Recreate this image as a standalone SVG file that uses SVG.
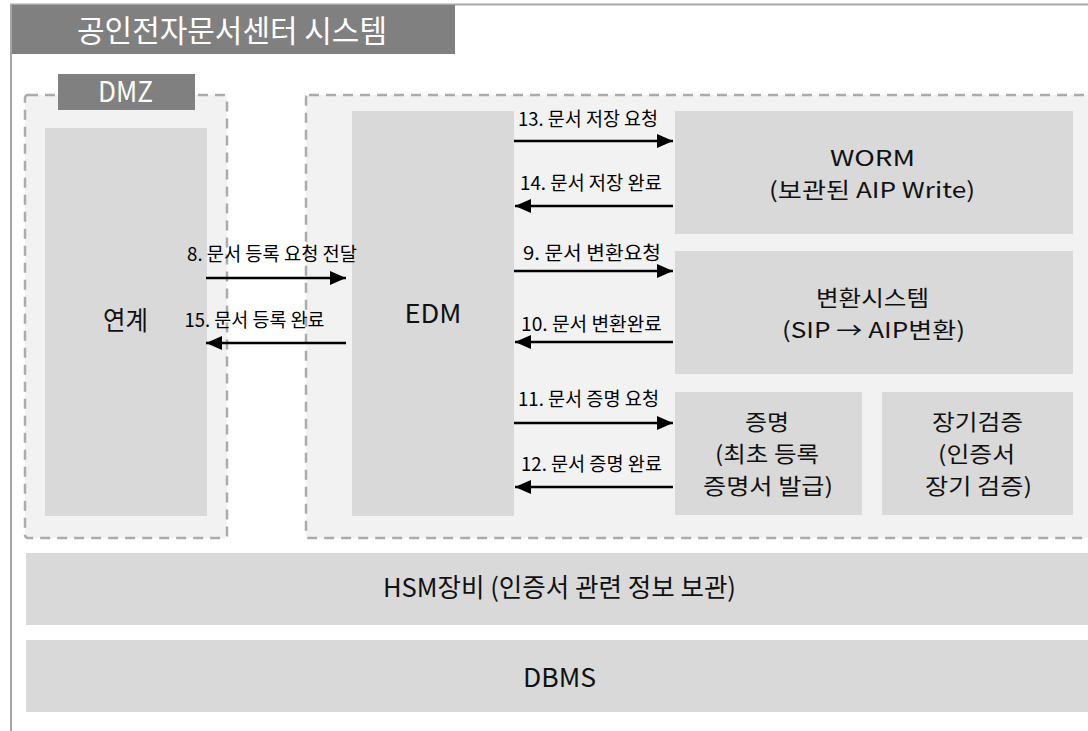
<svg xmlns="http://www.w3.org/2000/svg" width="1088" height="731" viewBox="0 0 1088 731">
<style>
.frame{fill:none;stroke:#a6a6a6;stroke-width:2}
.bar{fill:#808080}
.zone{fill:#f2f2f2;stroke:#ababab;stroke-width:2.5;stroke-dasharray:10 7}
.box{fill:#d9d9d9}
.t{font-family:"Noto Sans CJK KR","Noto Sans",sans-serif;font-size:26px;fill:#111;text-anchor:middle}
.m{font-size:22px}
.w{fill:#fff}
.lbl{font-family:"Noto Sans CJK KR","Noto Sans",sans-serif;font-size:19px;fill:#000;text-anchor:middle}
.arr{stroke:#000;stroke-width:2.5;fill:none;marker-end:url(#ah)}
</style>
<defs>
<marker id="ah" markerUnits="userSpaceOnUse" markerWidth="18" markerHeight="16" refX="16" refY="7" orient="auto">
<path d="M0,0 L16,7 L0,14 Z" fill="#000"/>
</marker>
</defs>
<rect width="1088" height="731" fill="#fff"/>
<path class="frame" d="M11,731 V4.5 H1088"/>
<g id="title">
<rect class="bar" x="12" y="5" width="443" height="49"/>
<text class="t w" x="232" y="42" style="font-size:31px" textLength="310" lengthAdjust="spacingAndGlyphs">공인전자문서센터 시스템</text>
</g>
<g id="dmz">
<rect class="zone" x="25" y="95" width="202" height="443" rx="3"/>
<rect class="bar" x="58" y="74" width="137" height="36"/>
<text class="t w" x="125.5" y="102" style="font-size:29px" textLength="55" lengthAdjust="spacingAndGlyphs">DMZ</text>
</g>
<g id="internal">
<rect class="zone" x="306" y="95" width="790" height="443" rx="3"/>
</g>
<g id="yeongye">
<rect class="box" x="45" y="128" width="162" height="388"/>
<text class="t" x="125.5" y="330" textLength="45" lengthAdjust="spacingAndGlyphs">연계</text>
</g>
<g id="edm">
<rect class="box" x="352" y="111" width="162" height="405"/>
<text class="t" x="433" y="323" textLength="57" lengthAdjust="spacingAndGlyphs">EDM</text>
</g>
<g id="worm">
<rect class="box" x="675" y="111" width="398" height="123"/>
<text class="t m" x="872.5" y="166" textLength="85" lengthAdjust="spacingAndGlyphs">WORM</text>
<text class="t m" x="872" y="198" textLength="206" lengthAdjust="spacingAndGlyphs">(보관된 AIP Write)</text>
</g>
<g id="convert">
<rect class="box" x="675" y="251" width="398" height="123"/>
<text class="t m" x="872.5" y="306" textLength="113" lengthAdjust="spacingAndGlyphs">변환시스템</text>
<text class="t m" x="873.5" y="338" textLength="183" lengthAdjust="spacingAndGlyphs">(SIP → AIP변환)</text>
</g>
<g id="proof">
<rect class="box" x="675" y="392" width="187" height="123"/>
<text class="t m" x="767" y="430" textLength="44" lengthAdjust="spacingAndGlyphs">증명</text>
<text class="t m" x="767" y="462" textLength="104" lengthAdjust="spacingAndGlyphs">(최초 등록</text>
<text class="t m" x="768" y="494" textLength="130" lengthAdjust="spacingAndGlyphs">증명서 발급)</text>
</g>
<g id="verify">
<rect class="box" x="882" y="392" width="191" height="123"/>
<text class="t m" x="977.5" y="430" textLength="91" lengthAdjust="spacingAndGlyphs">장기검증</text>
<text class="t m" x="976.5" y="462" textLength="77" lengthAdjust="spacingAndGlyphs">(인증서</text>
<text class="t m" x="978.5" y="494" textLength="107" lengthAdjust="spacingAndGlyphs">장기 검증)</text>
</g>
<g id="hsm">
<rect class="box" x="26" y="553" width="1062" height="72"/>
<text class="t" x="559.5" y="597" textLength="353" lengthAdjust="spacingAndGlyphs">HSM장비 (인증서 관련 정보 보관)</text>
</g>
<g id="dbms">
<rect class="box" x="26" y="640" width="1062" height="72"/>
<text class="t" x="559.5" y="687" textLength="73" lengthAdjust="spacingAndGlyphs">DBMS</text>
</g>
<g id="connectors">
<path class="arr" d="M206,278 H346"/>
<text class="lbl" x="272" y="261" textLength="170" lengthAdjust="spacingAndGlyphs">8. 문서 등록 요청 전달</text>
<path class="arr" d="M346,343 H206"/>
<text class="lbl" x="254.5" y="327" textLength="140" lengthAdjust="spacingAndGlyphs">15. 문서 등록 완료</text>
<path class="arr" d="M514,141 H673"/>
<text class="lbl" x="588" y="126" textLength="140" lengthAdjust="spacingAndGlyphs">13. 문서 저장 요청</text>
<path class="arr" d="M673,206 H515"/>
<text class="lbl" x="591" y="190" textLength="142" lengthAdjust="spacingAndGlyphs">14. 문서 저장 완료</text>
<path class="arr" d="M514,271 H673"/>
<text class="lbl" x="592" y="260" textLength="138" lengthAdjust="spacingAndGlyphs">9. 문서 변환요청</text>
<path class="arr" d="M673,342 H515"/>
<text class="lbl" x="591.5" y="331" textLength="141" lengthAdjust="spacingAndGlyphs">10. 문서 변환완료</text>
<path class="arr" d="M514,423 H673"/>
<text class="lbl" x="588.5" y="406" textLength="141" lengthAdjust="spacingAndGlyphs">11. 문서 증명 요청</text>
<path class="arr" d="M673,487 H515"/>
<text class="lbl" x="591.5" y="471" textLength="141" lengthAdjust="spacingAndGlyphs">12. 문서 증명 완료</text>
</g>
</svg>
